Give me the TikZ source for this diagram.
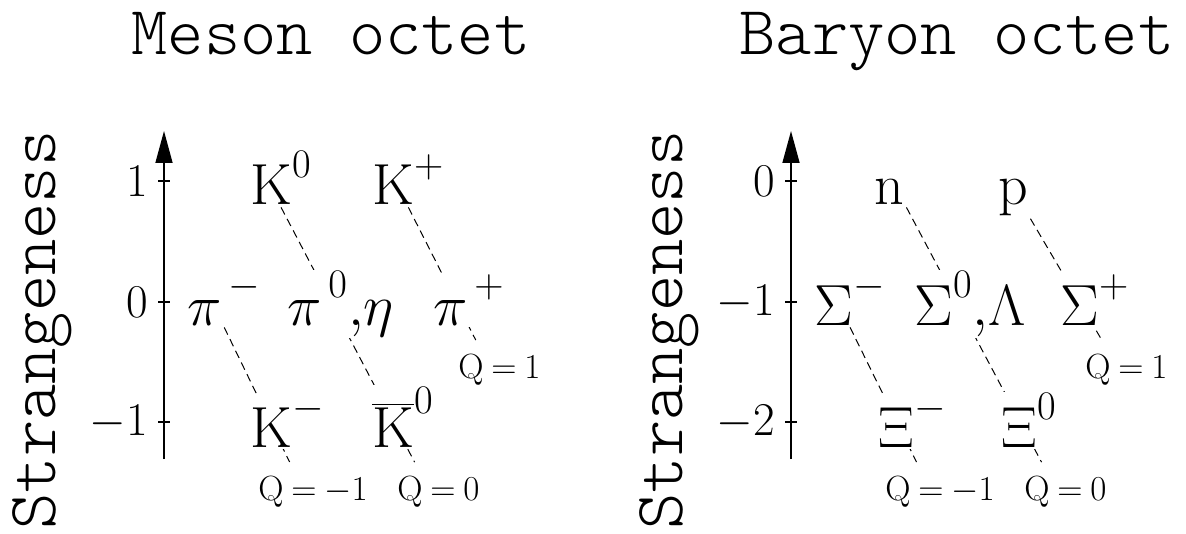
\RequirePackage{fix-cm}
\documentclass[tikz,border=0pt]{standalone}
\usetikzlibrary{arrows.meta,backgrounds}
\newcommand{\hi}[1]{^{\raisebox{3pt}{$\scriptstyle#1$}}}
\tikzset{
  octet title/.style={font=\fontseries{l}\ttfamily\fontsize{34.5}{40}\selectfont,anchor=base,inner sep=0pt},
  strange label/.style={font=\fontseries{l}\ttfamily\fontsize{34.5}{40}\selectfont,rotate=90,anchor=base,inner sep=0pt},
  saxis/.style={-{Triangle[length=16pt,width=8.5pt]},line width=0.8pt},
  saxis tick/.style={line width=0.8pt},
  tick num/.style={font=\fontsize{23.5}{28}\selectfont,anchor=east,inner sep=0pt},
  particle/.style={font=\fontsize{29}{34}\selectfont,anchor=base west,fill=white,inner sep=1pt},
  qlab/.style={font=\fontsize{17.5}{21}\selectfont,anchor=base west,inner sep=1pt},
  qline/.style={line width=0.5pt,dash pattern=on 4pt off 2.5pt,shorten >=6.5pt},
}

\begin{document}
\begin{tikzpicture}[x=0.5pt,y=-0.5pt]
  \useasboundingbox (0,0) rectangle (1186,534);
  % meson octet
  \begin{scope}
    \node[octet title] (mtitle) at (331,55) {Meson octet};
    \node[strange label] (mstrange) at (55,330) {Strangeness};
    \draw[saxis] (164,459) -- (164,131);
    \foreach \y/\lab [count=\i] in {181/1,302/0,422/-1}{
      \draw[saxis tick] (158,\y) -- (170,\y);
      \node[tick num] (mt\i) at (148,\y) {$\lab$};
    }
    \foreach \nm/\x/\y/\sym in {Kz/248/205/\mathrm{K}\hi{0}, Kp/370/205/\mathrm{K}\hi{+},
      pim/185/325/\pi\hi{\,-}, piz/285/325/{\pi\hi{\,0}{,}\eta}, pip/431/325/\pi\hi{\,+},
      Km/248/447/\mathrm{K}\hi{-}, Kzb/370/447/\overline{\mathrm{K}}\hi{0}}
      \node[particle] (\nm) at (\x,\y) {$\sym$};
    \foreach \nm/\x/\y/\q in {mqp/456/378/1, mqm/256/500/{-}1, mqz/395/500/0}
      \node[qlab] (\nm) at (\x,\y) {$\mathrm{Q}\mkern4mu{=}\mkern4mu\q$};
    \begin{scope}[on background layer]
      \draw[qline] (Kp.south) -- (mqp.135);
      \draw[qline] (Kz.south) -- (mqz.135);
      \draw[qline] (pim.south) -- (mqm.135);
    \end{scope}
  \end{scope}
  % baryon octet
  \begin{scope}[shift={(627,0)}]
    \node[octet title] (btitle) at (330,55) {Baryon octet};
    \node[strange label] (bstrange) at (55,330) {Strangeness};
    \draw[saxis] (164,459) -- (164,131);
    \foreach \y/\lab [count=\i] in {181/0,302/-1,422/-2}{
      \draw[saxis tick] (158,\y) -- (170,\y);
      \node[tick num] (bt\i) at (148,\y) {$\lab$};
    }
    \foreach \nm/\x/\y/\sym in {Nn/245/205/\mathrm{n}, Np/369/205/\mathrm{p},
      Sm/185/325/\Sigma\hi{-}, Sz/285/325/{\Sigma\hi{0}{,}\Lambda}, Sp/431/325/\Sigma\hi{+},
      Xm/249/447/\Xi\hi{-}, Xz/372/447/\Xi\hi{0}}
      \node[particle] (\nm) at (\x,\y) {$\sym$};
    \foreach \nm/\x/\y/\q in {bqp/456/378/1, bqm/256/500/{-}1, bqz/395/500/0}
      \node[qlab] (\nm) at (\x,\y) {$\mathrm{Q}\mkern4mu{=}\mkern4mu\q$};
    \begin{scope}[on background layer]
      \draw[qline] (Np.south east) -- (bqp.135);
      \draw[qline] (Nn.south east) -- (bqz.135);
      \draw[qline] (Sm.south) -- (bqm.135);
    \end{scope}
  \end{scope}
\end{tikzpicture}
\end{document}
